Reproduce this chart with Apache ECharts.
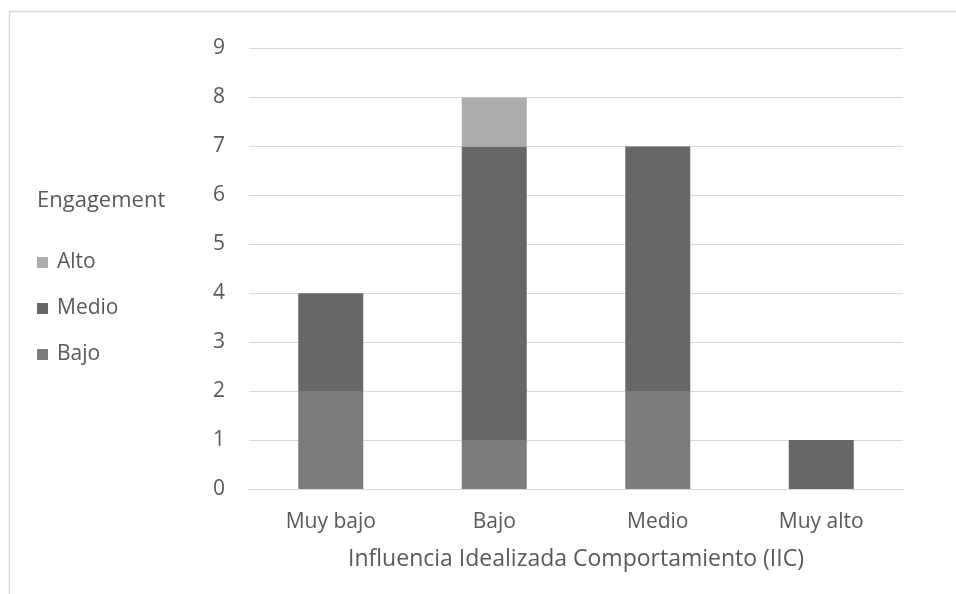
<!DOCTYPE html>
<html>
<head>
<meta charset="utf-8">
<style>
  html, body { margin: 0; padding: 0; background: #fff; }
  #chart { width: 956px; height: 594px; }
</style>
<script src="https://cdn.jsdelivr.net/npm/echarts@6/dist/echarts.min.js"></script>
</head>
<body>
<div id="chart"></div>
<script>
// categorias del eje x
const categories = ["Muy bajo", "Bajo", "Medio", "Muy alto"];
// valores por nivel de engagement
const bajoValues = [2, 1, 2, 0];
const medioValues = [2, 6, 5, 1];
const altoValues = [0, 1, 0, 0];
const yTicks = [0, 9, 1]; // min, max, intervalo

const textColor = "#595959";
const fontName = "Open Sans";

const chart = echarts.init(document.getElementById("chart"));
const option = {
    animation: false,
    textStyle: { fontFamily: fontName },
    title: {
        text: "Engagement",
        left: 32,
        top: 185,
        textStyle: { color: textColor, fontSize: 22, fontWeight: "normal", fontFamily: fontName }
    },
    legend: {
        orient: "vertical",
        left: 32,
        top: 247,
        icon: "rect",
        itemWidth: 11,
        itemHeight: 11,
        itemGap: 25,
        data: ["Alto", "Medio", "Bajo"],
        textStyle: { color: textColor, fontSize: 21, fontFamily: fontName, padding: [0, 0, 0, 4] }
    },
    graphic: [{
        type: "rect",
        shape: { x: 9.5, y: 11.5, width: 1000, height: 700 },
        style: { fill: "none", stroke: "#d9d9d9", lineWidth: 1.5 },
        silent: true
    }],
    grid: { left: 249, right: 53, top: 48.5, bottom: 105 },
    xAxis: {
        type: "category",
        data: categories,
        name: "Influencia Idealizada Comportamiento (IIC)",
        nameLocation: "middle",
        nameGap: 59,
        nameTextStyle: { color: textColor, fontSize: 23, fontFamily: fontName },
        axisLine: { lineStyle: { color: "#d9d9d9" } },
        axisTick: { show: false },
        axisLabel: { color: textColor, fontSize: 21, margin: 23, fontFamily: fontName }
    },
    yAxis: {
        type: "value",
        min: yTicks[0],
        max: yTicks[1],
        interval: yTicks[2],
        axisLine: { show: false },
        axisTick: { show: false },
        axisLabel: { color: textColor, fontSize: 21, margin: 24, fontFamily: fontName },
        splitLine: { lineStyle: { color: "#d9d9d9" } }
    },
    series: [
        { name: "Bajo", type: "bar", stack: "total", barWidth: 65, data: bajoValues, itemStyle: { color: "#7b7b7b" } },
        { name: "Medio", type: "bar", stack: "total", barWidth: 65, data: medioValues, itemStyle: { color: "#676767" } },
        { name: "Alto", type: "bar", stack: "total", barWidth: 65, data: altoValues, itemStyle: { color: "#adadad" } }
    ]
};
chart.setOption(option);
</script>
</body>
</html>
